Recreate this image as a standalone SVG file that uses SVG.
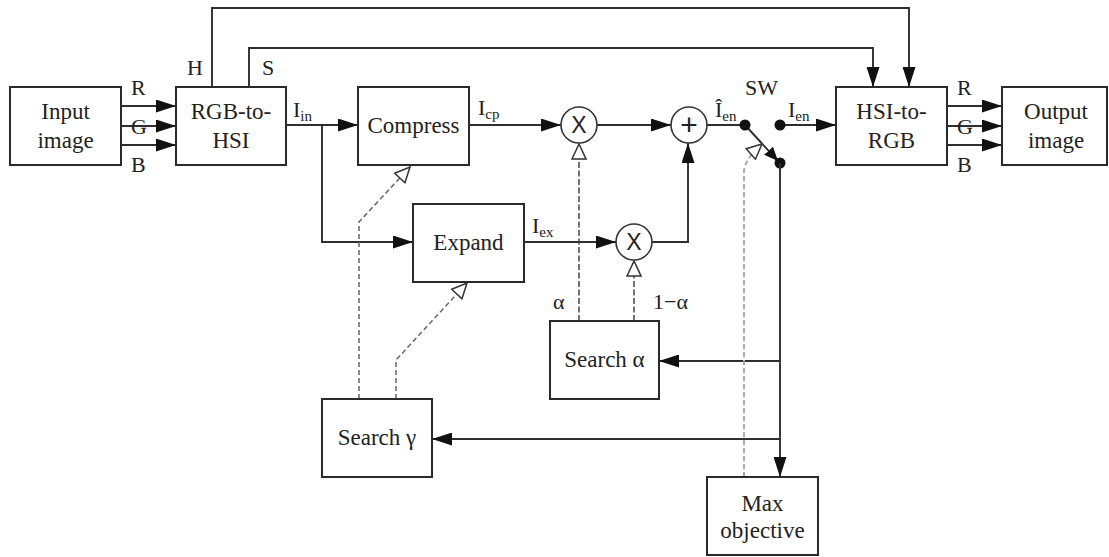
<svg xmlns="http://www.w3.org/2000/svg" width="1109" height="557" viewBox="0 0 1109 557">
  <defs>
    <style>
      .box { fill: #fff; stroke: #2a2a2a; stroke-width: 2; }
      .op { fill: #fff; stroke: #333; stroke-width: 1.6; }
      .wire { fill: none; stroke: #2e2e2e; stroke-width: 1.9; }
      .ctrl { fill: none; stroke: #444; stroke-width: 1.5; stroke-dasharray: 6 2.5; }
      .ctrl2 { fill: none; stroke: #666; stroke-width: 1.5; stroke-dasharray: 5 3; }
      .obj { fill: none; stroke: #aaa; stroke-width: 2; stroke-dasharray: 5 3; }
      .t { font-family: "Liberation Serif", "Times New Roman", serif; font-size: 23px; fill: #222; text-anchor: middle; }
      .lb { font-family: "Liberation Serif", "Times New Roman", serif; font-size: 22px; fill: #222; }
      .sub { font-size: 15px; }
      .sym { font-family: "Liberation Sans", Arial, sans-serif; font-size: 23px; fill: #222; text-anchor: middle; }
      .plus { font-family: "Liberation Sans", Arial, sans-serif; font-size: 30px; fill: #222; text-anchor: middle; }
    </style>
    <marker id="arr" markerUnits="userSpaceOnUse" markerWidth="20" markerHeight="13" refX="20" refY="6.5" orient="auto">
      <path d="M0,0 L20,6.5 L0,13 z" fill="#111"/>
    </marker>
    <marker id="arrS" markerUnits="userSpaceOnUse" markerWidth="14" markerHeight="12" refX="14" refY="6" orient="auto">
      <path d="M0,0 L14,6 L0,12 z" fill="#111"/>
    </marker>
    <marker id="hol" markerUnits="userSpaceOnUse" markerWidth="17" markerHeight="16" refX="16" refY="8" orient="auto">
      <path d="M1,1 L16,8 L1,15 z" fill="#fff" stroke="#333" stroke-width="1.5"/>
    </marker>
  </defs>

  <rect width="1109" height="557" fill="#fff"/>

  <!-- connectors -->
  <g id="connectors">
    <!-- RGB into converter -->
    <path class="wire" d="M121,106 H176" marker-end="url(#arr)"/>
    <path class="wire" d="M121,126 H176" marker-end="url(#arr)"/>
    <path class="wire" d="M121,145 H176" marker-end="url(#arr)"/>
    <!-- H and S bypass -->
    <path class="wire" d="M212,87 V8 H909 V87" marker-end="url(#arr)"/>
    <path class="wire" d="M249,87 V48 H873 V87" marker-end="url(#arr)"/>
    <!-- intensity path -->
    <path class="wire" d="M286,125 H358" marker-end="url(#arr)"/>
    <path class="wire" d="M322,125 V242 H413" marker-end="url(#arr)"/>
    <path class="wire" d="M469,125 H561" marker-end="url(#arr)"/>
    <path class="wire" d="M597,125 H671" marker-end="url(#arr)"/>
    <path class="wire" d="M524,242 H616" marker-end="url(#arr)"/>
    <path class="wire" d="M652,242 H688 V143" marker-end="url(#arr)"/>
    <path class="wire" d="M707,125 H745"/>
    <path class="wire" d="M780,125 H836" marker-end="url(#arr)"/>
    <!-- switch -->
    <path class="wire" d="M745,125 L778,161" marker-end="url(#arrS)"/>
    <circle cx="745" cy="125" r="5.5" fill="#111"/>
    <circle cx="780" cy="125" r="5.5" fill="#111"/>
    <circle cx="780" cy="163" r="5.5" fill="#111"/>
    <!-- feedback to search blocks and objective -->
    <path class="wire" d="M780,163 V477" marker-end="url(#arr)"/>
    <path class="wire" d="M780,361 H659" marker-end="url(#arr)"/>
    <path class="wire" d="M780,439 H432" marker-end="url(#arr)"/>
    <!-- HSI to RGB output -->
    <path class="wire" d="M947,106 H1002" marker-end="url(#arr)"/>
    <path class="wire" d="M947,126 H1002" marker-end="url(#arr)"/>
    <path class="wire" d="M947,145 H1002" marker-end="url(#arr)"/>
    <!-- weight controls -->
    <path class="ctrl" d="M579,321 V144" marker-end="url(#hol)"/>
    <path class="ctrl" d="M634,321 V261" marker-end="url(#hol)"/>
    <!-- gamma controls -->
    <path class="ctrl2" d="M359,399 V222 L410,167" marker-end="url(#hol)"/>
    <path class="ctrl2" d="M396,399 V360 L467,283" marker-end="url(#hol)"/>
    <!-- objective to switch -->
    <path class="obj" d="M744,477 V172 Q744,160 762,144" marker-end="url(#hol)"/>
  </g>

  <!-- nodes -->
  <g id="input-image">
    <rect class="box" x="10" y="87" width="111" height="78"/>
    <text class="t" x="65.5" y="119">Input</text>
    <text class="t" x="65.5" y="148">image</text>
  </g>
  <g id="rgb-to-hsi">
    <rect class="box" x="176" y="87" width="110" height="78"/>
    <text class="t" x="231" y="119">RGB-to-</text>
    <text class="t" x="231" y="148">HSI</text>
  </g>
  <g id="compress">
    <rect class="box" x="358" y="87" width="111" height="78"/>
    <text class="t" x="413.5" y="133">Compress</text>
  </g>
  <g id="expand">
    <rect class="box" x="413" y="204" width="111" height="78"/>
    <text class="t" x="468.5" y="250">Expand</text>
  </g>
  <g id="mult-cp">
    <circle class="op" cx="579" cy="125" r="18"/>
    <text class="sym" x="579" y="133">X</text>
  </g>
  <g id="mult-ex">
    <circle class="op" cx="634" cy="242" r="18"/>
    <text class="sym" x="634" y="250">X</text>
  </g>
  <g id="sum">
    <circle class="op" cx="689" cy="125" r="18"/>
    <text class="plus" x="689" y="135">+</text>
  </g>
  <g id="hsi-to-rgb">
    <rect class="box" x="836" y="87" width="111" height="78"/>
    <text class="t" x="891.5" y="119">HSI-to-</text>
    <text class="t" x="891.5" y="148">RGB</text>
  </g>
  <g id="output-image">
    <rect class="box" x="1002" y="87" width="105" height="78"/>
    <text class="t" x="1056" y="119">Output</text>
    <text class="t" x="1056" y="148">image</text>
  </g>
  <g id="search-alpha">
    <rect class="box" x="550" y="321" width="109" height="78"/>
    <text class="t" x="604.5" y="367">Search α</text>
  </g>
  <g id="search-gamma">
    <rect class="box" x="322" y="399" width="110" height="78"/>
    <text class="t" x="377" y="445">Search γ</text>
  </g>
  <g id="max-objective">
    <rect class="box" x="707" y="477" width="111" height="78"/>
    <text class="t" x="762.5" y="511">Max</text>
    <text class="t" x="762.5" y="538">objective</text>
  </g>

  <!-- signal labels -->
  <g id="labels">
    <text class="lb" x="131" y="95">R</text>
    <text class="lb" x="131" y="134">G</text>
    <text class="lb" x="131" y="172">B</text>
    <text class="lb" x="187" y="75">H</text>
    <text class="lb" x="262" y="75">S</text>
    <text class="lb" x="293" y="117">I<tspan class="sub" dy="4">in</tspan></text>
    <text class="lb" x="478" y="115">I<tspan class="sub" dy="4">cp</tspan></text>
    <text class="lb" x="532" y="233">I<tspan class="sub" dy="4">ex</tspan></text>
    <text class="lb" x="715" y="117">Î<tspan class="sub" dy="4">en</tspan></text>
    <text class="lb" x="745" y="95">SW</text>
    <text class="lb" x="788" y="117">I<tspan class="sub" dy="4">en</tspan></text>
    <text class="lb" x="957" y="95">R</text>
    <text class="lb" x="957" y="134">G</text>
    <text class="lb" x="957" y="172">B</text>
    <text class="lb" x="553" y="309">α</text>
    <text class="lb" x="653" y="309">1−α</text>
  </g>
</svg>
